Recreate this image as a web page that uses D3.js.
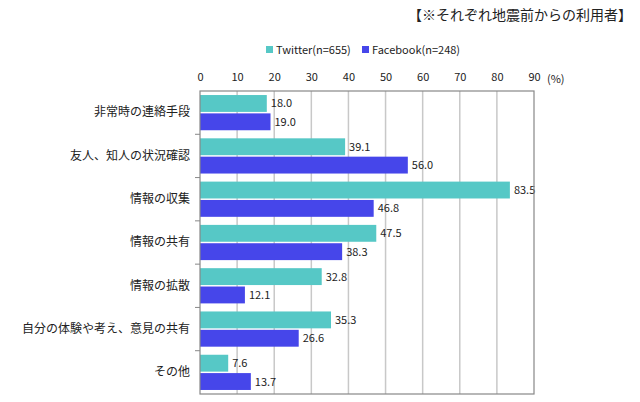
<!DOCTYPE html>
<html lang="ja">
<head>
<meta charset="UTF-8">
<script src="https://cdnjs.cloudflare.com/ajax/libs/d3/7.9.0/d3.min.js"></script>
<style>
  body { margin: 0; background: #fff; }
  svg { display: block; font-family: "Noto Sans CJK JP", sans-serif; }
</style>
</head>
<body>
<div id="chart"></div>
<script>
const categories = [
  "非常時の連絡手段", "友人、知人の状況確認", "情報の収集", "情報の共有",
  "情報の拡散", "自分の体験や考え、意見の共有", "その他"
];
const seriesNames = ["Twitter(n=655)", "Facebook(n=248)"];
const twitterValues = [18.0, 39.1, 83.5, 47.5, 32.8, 35.3, 7.6];
const facebookValues = [19.0, 56.0, 46.8, 38.3, 12.1, 26.6, 13.7];
const xTicks = [0, 10, 20, 30, 40, 50, 60, 70, 80, 90];
const colors = ["#56c8c6", "#4646ea"];

const width = 640, height = 402;
const margin = { top: 91, right: 106, bottom: 8, left: 200 };

const svg = d3.select("#chart").append("svg")
  .attr("width", width).attr("height", height);

const x = d3.scaleLinear().domain([0, 90])
  .range([margin.left, width - margin.right]);
const y = d3.scaleBand().domain(categories)
  .range([margin.top, height - margin.bottom]);
const ySub = d3.scaleBand().domain(seriesNames)
  .range([0, y.bandwidth()]).paddingOuter(0.22).paddingInner(0.08);

// title
svg.append("text")
  .attr("x", 632).attr("y", 20)
  .attr("text-anchor", "end")
  .attr("font-size", 14).attr("fill", "#222")
  .text("【※それぞれ地震前からの利用者】");

// legend
const legend = svg.append("g").attr("transform", "translate(266,50)");
const legendX = [0, 96];
seriesNames.forEach((s, i) => {
  const g = legend.append("g").attr("transform", `translate(${legendX[i]},0)`);
  g.append("rect").attr("x", 0).attr("y", -4).attr("width", 7).attr("height", 7)
    .attr("fill", colors[i]);
  g.append("text").attr("x", 10).attr("y", 4)
    .attr("font-size", 11).attr("fill", "#222").text(s);
});

// grid
svg.append("g").selectAll("line")
  .data(xTicks.slice(1, -1)).enter().append("line")
  .attr("x1", d => x(d)).attr("x2", d => x(d))
  .attr("y1", margin.top).attr("y2", height - margin.bottom)
  .attr("stroke", "#c8c8c8").attr("stroke-width", 1.5);

// top axis labels
const xAxis = d3.axisTop(x).tickValues(xTicks).tickSize(0).tickPadding(10);
const xg = svg.append("g")
  .attr("transform", `translate(0,${margin.top})`)
  .call(xAxis);
xg.select(".domain").remove();
xg.selectAll("text").attr("font-size", 11).attr("fill", "#222")
  .attr("font-family", "'Noto Sans CJK JP', sans-serif");
svg.append("text")
  .attr("x", x(90) + 13).attr("y", 83)
  .attr("font-size", 11).attr("fill", "#222").text("(%)");

// bars
const data = categories.map((c, i) => ({
  cat: c,
  vals: [
    { name: seriesNames[0], v: twitterValues[i], c: colors[0] },
    { name: seriesNames[1], v: facebookValues[i], c: colors[1] }
  ]
}));

const groups = svg.append("g").selectAll("g")
  .data(data).enter().append("g")
  .attr("transform", d => `translate(0,${y(d.cat)})`);

groups.selectAll("rect")
  .data(d => d.vals).enter().append("rect")
  .attr("x", x(0))
  .attr("y", d => ySub(d.name))
  .attr("width", d => x(d.v) - x(0))
  .attr("height", ySub.bandwidth())
  .attr("fill", d => d.c);

groups.selectAll("text.val")
  .data(d => d.vals).enter().append("text")
  .attr("class", "val")
  .attr("x", d => x(d.v) + 4)
  .attr("y", d => ySub(d.name) + ySub.bandwidth() / 2 + 4)
  .attr("font-size", 11).attr("fill", "#222")
  .text(d => d.v.toFixed(1));

// left axis with category labels
const yAxis = d3.axisLeft(y).tickSize(0).tickPadding(10);
const yg = svg.append("g")
  .attr("transform", `translate(${margin.left},0)`)
  .call(yAxis);
yg.select(".domain").remove();
yg.selectAll("text").attr("font-size", 12).attr("fill", "#222")
  .attr("font-family", "'Noto Sans CJK JP', sans-serif");

// boundary ticks on left
svg.append("g").selectAll("line")
  .data(categories.slice(1)).enter().append("line")
  .attr("x1", margin.left - 5).attr("x2", margin.left)
  .attr("y1", d => y(d)).attr("y2", d => y(d))
  .attr("stroke", "#888");

// frame
svg.append("rect")
  .attr("x", margin.left).attr("y", margin.top)
  .attr("width", x(90) - x(0))
  .attr("height", height - margin.bottom - margin.top)
  .attr("fill", "none").attr("stroke", "#888").attr("stroke-width", 1.2);
</script>
</body>
</html>
